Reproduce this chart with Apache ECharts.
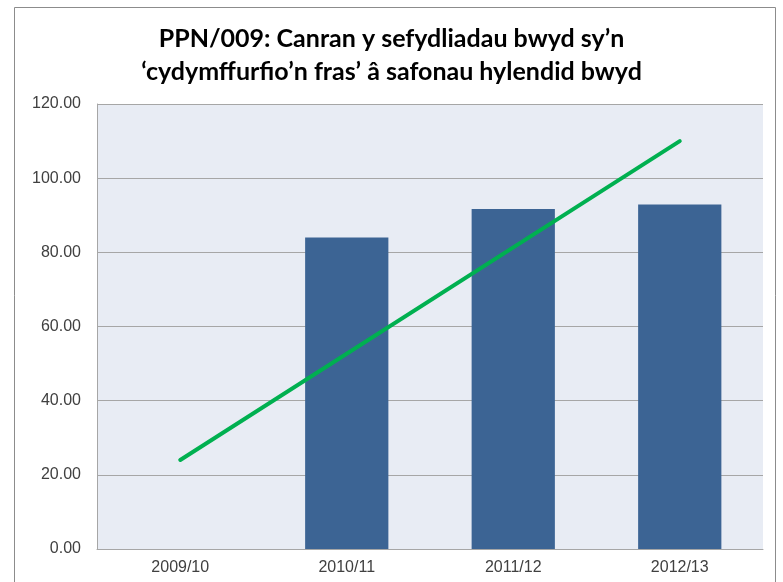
<!DOCTYPE html>
<html>
<head>
<meta charset="utf-8">
<script src="https://cdn.jsdelivr.net/npm/echarts@6/dist/echarts.min.js"></script>
<style>
  html, body { margin: 0; padding: 0; background: #ffffff; }
  #chart { width: 783px; height: 582px; }
</style>
</head>
<body>
<div id="chart"></div>
<script>
// Years on the category axis
const categories = ['2009/10', '2010/11', '2011/12', '2012/13'];
// Percentage of food establishments broadly compliant (no figure for 2009/10)
const compliance = [null, 84.0, 91.7, 92.9];
// Trend line: start and end points, joined straight across the years between
const trend = [24.0, null, null, 110.0];
// Value axis ticks
const yMin = 0, yMax = 120, yStep = 20;

const chart = echarts.init(document.getElementById('chart'), null, { renderer: 'canvas' });

chart.setOption({
  animation: false,
  backgroundColor: '#ffffff',
  graphic: [{
    type: 'rect',
    shape: { x: 14.5, y: 7.5, width: 761, height: 600 },
    style: { fill: 'none', stroke: '#8c8c8c', lineWidth: 1 },
    silent: true
  }],
  title: {
    text: 'PPN/009: Canran y sefydliadau bwyd sy\u2019n\n\u2018cydymffurfio\u2019n fras\u2019 \u00e2 safonau hylendid bwyd',
    left: 'center',
    top: 17,
    textStyle: {
      fontFamily: 'Lato',
      fontWeight: 'bold',
      fontSize: 25,
      lineHeight: 33,
      color: '#000000'
    }
  },
  grid: {
    left: 97, right: 20, top: 104, bottom: 33,
    show: true,
    backgroundColor: '#e8ecf4',
    borderWidth: 0,
    containLabel: false
  },
  xAxis: {
    type: 'category',
    data: categories,
    axisLine: { show: true, lineStyle: { color: '#a6a6a6', width: 1 } },
    axisTick: { show: false },
    axisLabel: {
      margin: 11,
      fontFamily: 'Liberation Sans',
      fontSize: 16,
      color: '#404040'
    }
  },
  yAxis: {
    type: 'value',
    min: yMin, max: yMax, interval: yStep,
    axisLine: { show: true, lineStyle: { color: '#a6a6a6', width: 1 } },
    axisTick: { show: false },
    splitLine: { show: true, lineStyle: { color: '#a6a6a6', width: 1 } },
    axisLabel: {
      margin: 16,
      fontFamily: 'Liberation Sans',
      fontSize: 16,
      color: '#404040',
      formatter: v => v.toFixed(2)
    }
  },
  series: [
    {
      type: 'bar',
      data: compliance,
      barWidth: '50%',
      itemStyle: { color: '#3c6494' }
    },
    {
      type: 'line',
      data: trend,
      connectNulls: true,
      showSymbol: false,
      symbol: 'none',
      lineStyle: { color: '#00b050', width: 4, cap: 'round' }
    }
  ]
});
</script>
</body>
</html>
